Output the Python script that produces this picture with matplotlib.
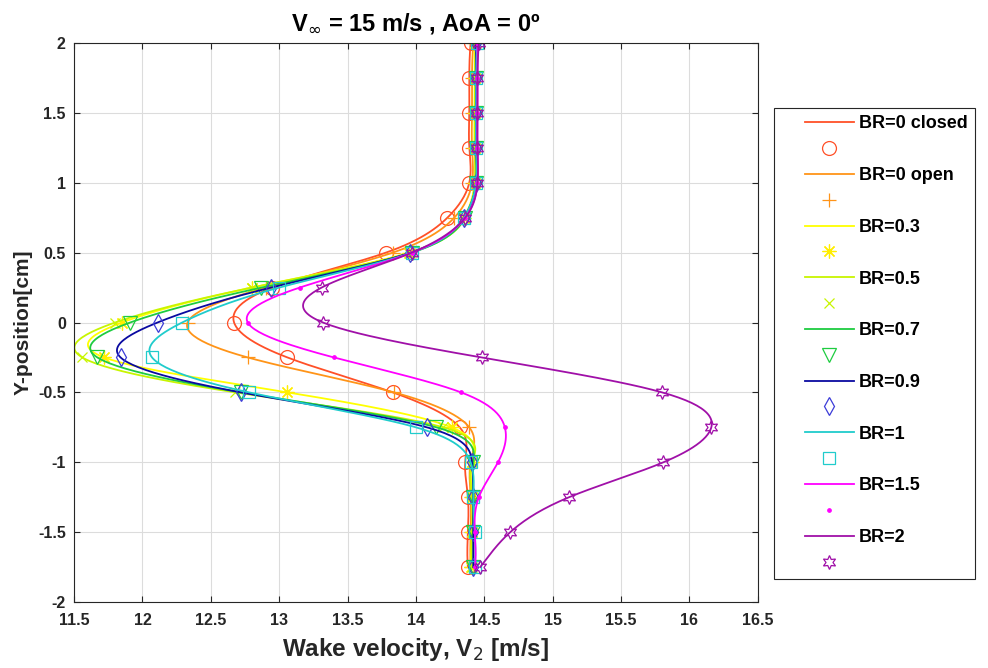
import numpy as np
import matplotlib
matplotlib.use("Agg")
import matplotlib.pyplot as plt
from matplotlib.ticker import FormatStrFormatter
from matplotlib.lines import Line2D
from matplotlib.legend_handler import HandlerLine2D

# measurement stations across the wake [cm]
y_pos = [-1.75, -1.5, -1.25, -1.0, -0.75, -0.5, -0.25, 0.0,
         0.25, 0.5, 0.75, 1.0, 1.25, 1.5, 1.75, 2.0]

# wake velocity V2 [m/s] for each blockage ratio
v_br0_closed = [14.38, 14.38, 14.38, 14.36, 14.32, 13.83, 13.06, 12.67,
                12.95, 13.78, 14.23, 14.39, 14.39, 14.39, 14.39, 14.40]
v_br0_open = [14.40, 14.40, 14.40, 14.40, 14.39, 13.84, 12.77, 12.33,
              12.90, 13.83, 14.28, 14.41, 14.41, 14.41, 14.41, 14.42]
v_br03 = [14.40, 14.41, 14.41, 14.41, 14.26, 13.06, 11.72, 11.85,
          12.80, 13.95, 14.35, 14.43, 14.43, 14.43, 14.43, 14.43]
v_br05 = [14.41, 14.41, 14.41, 14.41, 14.20, 12.68, 11.56, 11.80,
          12.80, 13.96, 14.36, 14.43, 14.43, 14.43, 14.43, 14.44]
v_br07 = [14.42, 14.42, 14.42, 14.42, 14.15, 12.72, 11.67, 11.91,
          12.87, 13.97, 14.36, 14.44, 14.44, 14.44, 14.44, 14.44]
v_br09 = [14.42, 14.42, 14.42, 14.41, 14.08, 12.72, 11.84, 12.11,
          12.94, 13.96, 14.35, 14.44, 14.44, 14.44, 14.44, 14.44]
v_br1 = [14.43, 14.43, 14.42, 14.40, 14.00, 12.78, 12.07, 12.29,
         13.00, 13.97, 14.35, 14.44, 14.44, 14.44, 14.44, 14.45]
v_br15 = [14.43, 14.43, 14.46, 14.60, 14.65, 14.33, 13.40, 12.77,
          13.15, 13.97, 14.36, 14.45, 14.45, 14.45, 14.45, 14.45]
v_br2 = [14.47, 14.69, 15.12, 15.81, 16.16, 15.80, 14.48, 13.32,
         13.31, 13.97, 14.36, 14.45, 14.45, 14.45, 14.45, 14.46]

labels = ['BR=0 closed', 'BR=0 open', 'BR=0.3', 'BR=0.5', 'BR=0.7',
          'BR=0.9', 'BR=1', 'BR=1.5', 'BR=2']
series = [v_br0_closed, v_br0_open, v_br03, v_br05, v_br07,
          v_br09, v_br1, v_br15, v_br2]
colors = ['#ff5028', '#ff9418', '#ffff00', '#c8f500', '#1ecc40',
          '#0a0aa0', '#20cccc', '#ff00ff', '#a010a8']
mk_colors = ['#ff5028', '#ff9418', '#ffee00', '#c8f500', '#1ecc40',
             '#3c3cd8', '#20cccc', '#ff00ff', '#a010a8']
markers = ['o', '+', (8, 2, 0), 'x', 'v', 'd', 's', '.', (6, 1, 0)]
msizes = [10, 10, 10, 7, 10, 9, 8, 5, 10]


def spline_nak(x, y, xs):
    # cubic spline with not-a-knot ends
    x = np.asarray(x, float)
    y = np.asarray(y, float)
    n = len(x)
    h = np.diff(x)
    A = np.zeros((n, n))
    b = np.zeros(n)
    for i in range(1, n - 1):
        A[i, i - 1] = h[i - 1]
        A[i, i] = 2 * (h[i - 1] + h[i])
        A[i, i + 1] = h[i]
        b[i] = 6 * ((y[i + 1] - y[i]) / h[i] - (y[i] - y[i - 1]) / h[i - 1])
    A[0, 0:3] = [h[1], -(h[0] + h[1]), h[0]]
    A[-1, -3:] = [h[-1], -(h[-2] + h[-1]), h[-2]]
    M = np.linalg.solve(A, b)
    k = np.clip(np.searchsorted(x, xs) - 1, 0, n - 2)
    hk = h[k]
    a = x[k + 1] - xs
    c = xs - x[k]
    return (M[k] * a ** 3 / (6 * hk) + M[k + 1] * c ** 3 / (6 * hk)
            + (y[k] / hk - M[k] * hk / 6) * a
            + (y[k + 1] / hk - M[k + 1] * hk / 6) * c)


fig = plt.figure(figsize=(9.88, 6.68), dpi=100)
ax = fig.add_axes([0.075, 0.0988, 0.692, 0.8368])

yy = np.linspace(y_pos[0], y_pos[-1], 400)
handles = []
for v, lab, col, mcol, mk, ms in zip(series, labels, colors, mk_colors, markers, msizes):
    vv = spline_nak(y_pos, v, yy)
    ln, = ax.plot(vv, yy, '-', color=col, lw=1.3, label=lab)
    pt, = ax.plot(v, y_pos, linestyle='none', marker=mk, ms=ms, mfc='none' if mk != '.' else mcol,
                  mec=mcol, mew=0.9)
    handles += [ln, pt]

ax.set_xlim(11.5, 16.5)
ax.set_ylim(-2, 2)
ax.set_xticks(np.arange(11.5, 16.51, 0.5))
ax.set_yticks(np.arange(-2, 2.01, 0.5))
ax.xaxis.set_major_formatter(FormatStrFormatter('%g'))
ax.yaxis.set_major_formatter(FormatStrFormatter('%g'))
ax.grid(True, color='#dcdcdc', lw=0.8)
ax.set_axisbelow(True)
ax.tick_params(direction='in', top=True, right=True, labelsize=11.5,
               colors='#262626', length=4)
ax.tick_params(axis='x', pad=8)
ax.tick_params(axis='y', pad=6)
for lab in ax.get_xticklabels() + ax.get_yticklabels():
    lab.set_fontfamily('Liberation Sans')
    lab.set_fontweight('bold')
for sp in ax.spines.values():
    sp.set_color('#262626')
    sp.set_linewidth(0.8)

ax.set_xlabel(r'Wake velocity, V$_2$ [m/s]', fontsize=17.5, fontweight='bold',
              family='Liberation Sans', color='#262626', labelpad=6)
ax.set_ylabel('Y-position[cm]', fontsize=15, fontweight='bold',
              family='Liberation Sans', color='#262626', labelpad=4)
ax.set_title(r'V$_{\infty}$ = 15 m/s , AoA = 0º', fontsize=17, fontweight='bold',
             family='Liberation Sans', pad=9)

leg_labels = []
for lab in labels:
    leg_labels += [lab, ' ']
leg = fig.legend(handles, leg_labels, loc='upper left',
                 bbox_to_anchor=(0.783, 0.838), fancybox=False,
                 edgecolor='#262626', framealpha=1,
                 prop={'family': 'Liberation Sans', 'weight': 'bold', 'size': 13},
                 handler_map={Line2D: HandlerLine2D(xpad=1.32)},
                 handlelength=4.04, handletextpad=0.28, labelspacing=0.49,
                 borderpad=0.4, borderaxespad=0)
leg.get_frame().set_linewidth(0.8)

fig.savefig('out.png', dpi=100)
